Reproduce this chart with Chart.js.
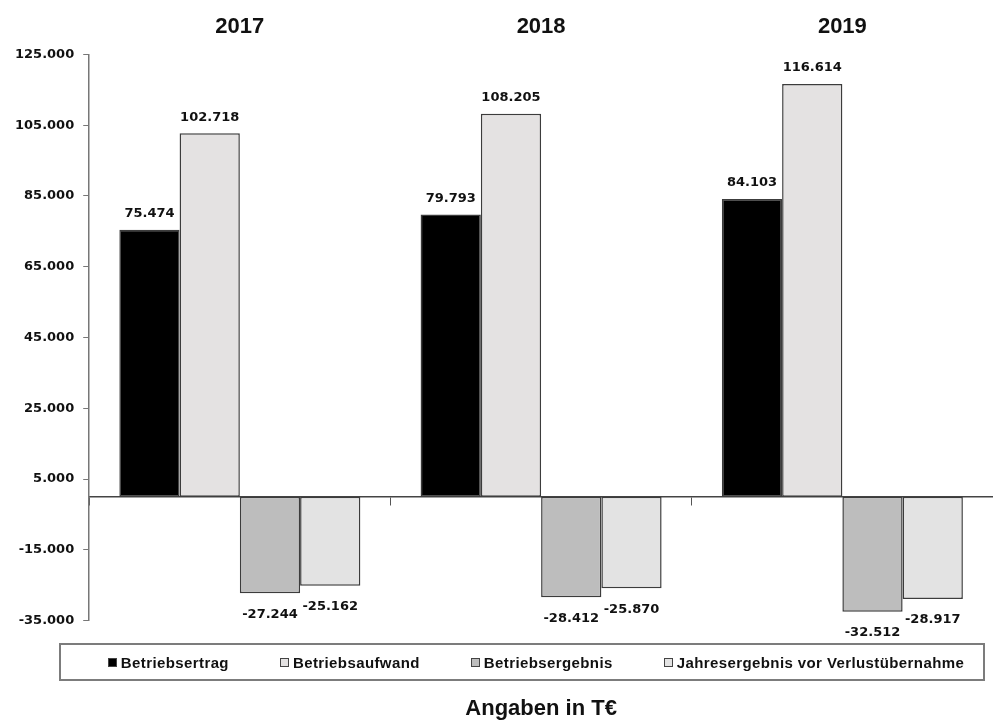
<!DOCTYPE html>
<html lang="de">
<head>
<meta charset="utf-8">
<title>Betriebsergebnis 2017–2019</title>
<script src="https://cdn.jsdelivr.net/npm/chart.js@4.4.1/dist/chart.umd.min.js"></script>
<style>
  html, body { margin: 0; padding: 0; background: #fff; }
  #wrap { position: relative; width: 993px; height: 722px; }
  #chart { position: absolute; left: 0; top: 0; }
  #legende {
    position: absolute; left: 59px; top: 643px; width: 926px; height: 38px;
    box-sizing: border-box; border: 2px solid #7c7c7c; padding-left: 28px;
    display: flex; align-items: center; justify-content: center; gap: 51px;
    font: bold 15px "Liberation Sans", Arial, sans-serif; letter-spacing: 0.4px; color: #111;
  }
  #legende span.item { display: flex; align-items: center; }
  #legende span.box {
    display: inline-block; width: 7px; height: 7px; margin-right: 4px;
    border: 1px solid #444;
  }
</style>
</head>
<body>
<div id="wrap">
  <canvas id="chart" width="993" height="722"></canvas>
  <div id="legende"></div>
</div>
<script>
// Werte in T€
const jahre = ["2017", "2018", "2019"];
const reihen = ["Betriebsertrag", "Betriebsaufwand", "Betriebsergebnis", "Jahresergebnis vor Verlustübernahme"];
const betriebsertrag = [75474, 79793, 84103];
const betriebsaufwand = [102718, 108205, 116614];
const betriebsergebnis = [-27244, -28412, -32512];
const jahresergebnis = [-25162, -25870, -28917];
const yTicks = [-35000, -15000, 5000, 25000, 45000, 65000, 85000, 105000, 125000];

const farben = ["#000000", "#e4e2e2", "#bdbdbd", "#e3e3e3"];
const werte = [betriebsertrag, betriebsaufwand, betriebsergebnis, jahresergebnis];

// 125000 -> "125.000"
const fmt = v => (v < 0 ? "-" : "") + String(Math.abs(v)).replace(/\B(?=(\d{3})+(?!\d))/g, ".");

const labelFont = { family: "DejaVu Sans", size: 13, weight: "bold" };

// Zahlen über bzw. unter den Säulen
const wertLabels = {
  id: "wertLabels",
  afterDatasetsDraw(chart) {
    const ctx = chart.ctx;
    ctx.save();
    ctx.font = `bold ${labelFont.size}px "${labelFont.family}"`;
    ctx.fillStyle = "#111";
    ctx.textAlign = "center";
    ctx.textBaseline = "middle";
    chart.data.datasets.forEach((ds, i) => {
      chart.getDatasetMeta(i).data.forEach((bar, j) => {
        const v = ds.data[j];
        const y = v >= 0 ? bar.y - 16 : bar.y + 21;
        ctx.fillText(fmt(v), bar.x, y);
      });
    });
    ctx.restore();
  }
};

new Chart(document.getElementById("chart"), {
  type: "bar",
  data: {
    labels: jahre,
    datasets: reihen.map((name, i) => ({
      label: name,
      data: werte[i],
      backgroundColor: farben[i],
      borderColor: "#3c3c3c",
      borderWidth: 1.5,
      borderSkipped: false,
      barPercentage: 1,
      categoryPercentage: 0.8
    }))
  },
  options: {
    responsive: false,
    animation: false,
    devicePixelRatio: 1,
    layout: { padding: { top: 0, left: 6, right: 0, bottom: 0 } },
    plugins: {
      legend: { display: false },
      tooltip: { enabled: false },
      title: {
        display: true,
        text: "Angaben in T€",
        position: "bottom",
        fullSize: false,
        color: "#111",
        font: { family: "Liberation Sans", size: 22, weight: "bold" },
        padding: { top: 75, bottom: 0 }
      }
    },
    scales: {
      x: {
        type: "category",
        position: { y: 0 },
        offset: true,
        grid: { offset: true, drawOnChartArea: false, drawTicks: true, tickLength: 8, color: "#555" },
        border: { display: true, color: "#444", width: 1.5 },
        ticks: { display: false }
      },
      x2: {
        type: "category",
        position: "top",
        offset: true,
        grid: { display: false, drawTicks: false },
        border: { display: false },
        ticks: { padding: 14, color: "#111", font: { family: "Liberation Sans", size: 22, weight: "bold" } }
      },
      y: {
        position: "left",
        min: yTicks[0],
        max: yTicks[yTicks.length - 1],
        afterBuildTicks: s => { s.ticks = yTicks.map(v => ({ value: v })); },
        grid: { drawOnChartArea: false, drawTicks: true, tickLength: 6, color: "#777" },
        border: { display: true, color: "#777", width: 1.5 },
        ticks: { padding: 9, color: "#111", font: labelFont, callback: v => fmt(v) }
      }
    }
  },
  plugins: [wertLabels]
});

// Legende
const legende = document.getElementById("legende");
reihen.forEach((name, i) => {
  const item = document.createElement("span");
  item.className = "item";
  const box = document.createElement("span");
  box.className = "box";
  box.style.background = farben[i];
  item.appendChild(box);
  item.appendChild(document.createTextNode(name));
  legende.appendChild(item);
});
</script>
</body>
</html>
